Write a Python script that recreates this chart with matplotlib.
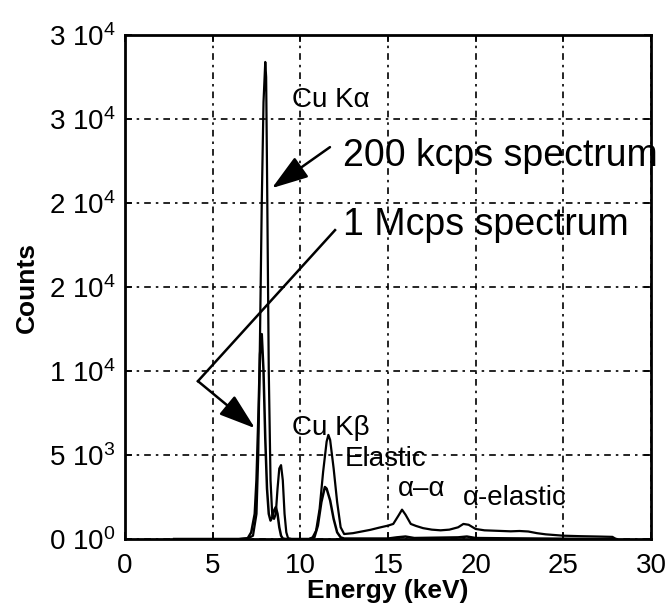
import matplotlib
matplotlib.use("Agg")
import matplotlib.pyplot as plt

plt.rcParams['font.family'] = ['Liberation Sans', 'DejaVu Sans']
plt.rcParams['mathtext.fontset'] = 'custom'
plt.rcParams['mathtext.rm'] = 'Liberation Sans'
plt.rcParams['mathtext.it'] = 'Liberation Sans:italic'
plt.rcParams['mathtext.bf'] = 'Liberation Sans:bold'

# ---- data ----
energy_200k = [2.8, 6.5, 7.0, 7.3, 7.5, 7.6, 7.7, 7.8, 7.9, 8.0, 8.05, 8.1, 8.2, 8.3, 8.4,
               8.5, 8.6, 8.7, 8.8, 8.9, 9.0, 9.1, 9.2, 9.3, 9.5, 10.5, 10.7, 10.9, 11.1,
               11.3, 11.5, 11.6, 11.7, 11.9, 12.1, 12.3, 12.5, 13.0, 13.5, 14.0, 14.5,
               15.0, 15.3, 15.6, 15.8, 16.0, 16.3, 16.6, 17.0, 17.5, 18.0, 18.5, 19.0,
               19.3, 19.6, 20.0, 20.5, 21.0, 22.0, 22.5, 23.0, 23.5, 24.0, 25.0, 26.0,
               27.0, 27.8, 28.0]
counts_200k = [0, 0, 30, 200, 1500, 5000, 12000, 20000, 26000, 28400, 27500, 22000, 10000,
               3500, 1400, 1200, 1500, 3000, 4200, 4400, 3500, 1500, 400, 50, 0, 0, 100,
               500, 1800, 4000, 5800, 6200, 5900, 4200, 2200, 700, 300, 350, 450, 550, 680,
               800, 900, 1400, 1750, 1450, 900, 780, 650, 560, 520, 560, 700, 900, 850,
               600, 520, 500, 460, 480, 450, 350, 280, 200, 170, 150, 130, 0]

energy_1M = [2.8, 6.5, 7.0, 7.2, 7.4, 7.5, 7.6, 7.7, 7.8, 7.9, 8.0, 8.1, 8.2, 8.3, 8.4,
             8.5, 8.6, 8.7, 8.8, 8.9, 9.0, 9.2, 10.5, 10.8, 11.0, 11.2, 11.4, 11.5, 11.7,
             11.9, 12.1, 12.3, 12.5, 15.0, 15.5, 16.0, 16.5, 19.0, 19.5, 20.0, 22.0, 25.0,
             28.0]
counts_1M = [0, 0, 50, 400, 1500, 3500, 7000, 11000, 12200, 10000, 6000, 3000, 1500, 1100,
             1300, 1700, 1900, 1500, 700, 200, 30, 0, 0, 100, 800, 2200, 3100, 3000, 2300,
             1200, 400, 100, 30, 30, 100, 150, 60, 100, 150, 60, 40, 20, 0]

x_ticks = [0, 5, 10, 15, 20, 25, 30]
y_ticks = [0, 5000, 10000, 15000, 20000, 25000, 30000]
y_tick_labels = [r'$\mathregular{0\ 10^{0}}$', r'$\mathregular{5\ 10^{3}}$',
                 r'$\mathregular{1\ 10^{4}}$', r'$\mathregular{2\ 10^{4}}$',
                 r'$\mathregular{2\ 10^{4}}$', r'$\mathregular{3\ 10^{4}}$',
                 r'$\mathregular{3\ 10^{4}}$']

fig = plt.figure(figsize=(6.67, 6.05), dpi=100)
ax = fig.add_axes([0.1874, 0.109, 0.7886, 0.833])

ax.plot(energy_200k, counts_200k, color='black', lw=1.6)
ax.plot(energy_1M, counts_1M, color='black', lw=1.8)

ax.set_xlim(0, 30)
ax.set_ylim(0, 30000)
ax.set_xticks(x_ticks)
ax.set_xticklabels([str(t) for t in x_ticks])
ax.set_yticks(y_ticks)
ax.set_yticklabels(y_tick_labels)
ax.tick_params(direction='in', length=5, width=1.2, labelsize=20, pad=7,
               top=True, right=True)
ax.tick_params(axis='x', pad=10)
ax.grid(True, color='black', lw=1.2, linestyle=(0, (4, 3, 1.5, 3)))
for s in ax.spines.values():
    s.set_linewidth(2)

ax.set_xlabel('Energy (keV)', fontsize=19, fontweight='bold', labelpad=0)
ax.set_ylabel('Counts', fontsize=19, fontweight='bold', labelpad=7)

ax.text(9.52, 26130, 'Cu K\u03b1', fontsize=20, va='center', ha='left')
ax.text(12.43, 22800, '200 kcps spectrum', fontsize=27, va='center', ha='left')
ax.annotate('', xy=(8.38, 20890), xytext=(11.69, 23330),
            arrowprops=dict(arrowstyle='-|>,head_length=0.9,head_width=0.3', color='black',
                            lw=1.8, mutation_scale=25, shrinkA=0, shrinkB=0))
ax.text(12.43, 18700, '1 Mcps spectrum', fontsize=27, va='center', ha='left')
ax.plot([11.98, 4.16], [18390, 9400], color='black', lw=1.8)
ax.annotate('', xy=(7.41, 6600), xytext=(4.16, 9400),
            arrowprops=dict(arrowstyle='-|>,head_length=0.9,head_width=0.3', color='black',
                            lw=1.8, mutation_scale=25, shrinkA=0, shrinkB=0))
ax.text(9.52, 6600, 'Cu K\u03b2', fontsize=20, va='center', ha='left')
ax.text(12.55, 4780, 'Elastic', fontsize=20, va='center', ha='left')
ax.text(15.57, 3000, '\u03b1\u2013\u03b1', fontsize=20, va='center', ha='left')
ax.text(19.28, 2460, '\u03b1-elastic', fontsize=20, va='center', ha='left')

fig.savefig('out.png', dpi=100)
